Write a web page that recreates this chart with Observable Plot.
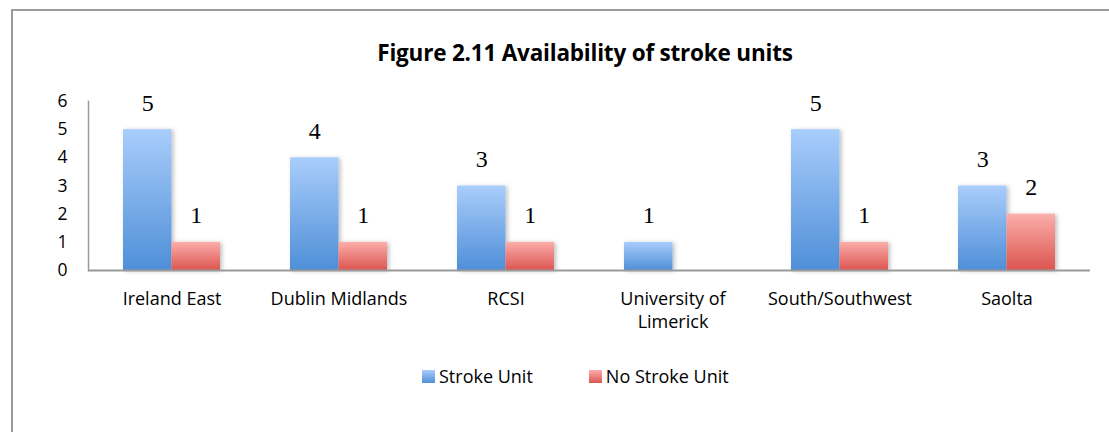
<!DOCTYPE html>
<html>
<head>
<meta charset="utf-8">
<script src="https://cdn.jsdelivr.net/npm/d3@7"></script>
<script src="https://cdn.jsdelivr.net/npm/@observablehq/plot@0.6"></script>
<style>
  html, body { margin: 0; padding: 0; background: #fff; overflow: hidden; width: 1109px; height: 432px; }
  #frame { position: absolute; left: 11px; top: 9px; width: 1200px; height: 600px; border: 2px solid #9a9a9a; box-sizing: border-box; }
  #title { position: absolute; left: 0; width: 1170px; top: 37px; text-align: center; font: bold 22.5px "Open Sans", Lato, sans-serif; letter-spacing: -0.2px; color: #000; }
  #chart { position: absolute; left: 0; top: 80px; }
  #legend { position: absolute; left: 422px; top: 364px; display: flex; align-items: center; font: 18px "Open Sans", Lato, sans-serif; color: #000; }
  #legend .sw { width: 13px; height: 13px; margin-right: 4px; }
  #legend .item { display: flex; align-items: center; margin-right: 56px; }
</style>
</head>
<body>
<div id="frame"></div>
<div id="title">Figure 2.11 Availability of stroke units</div>
<div id="chart"></div>
<div id="legend"></div>
<script>
const categories = ["Ireland East", "Dublin Midlands", "RCSI", "University of\nLimerick", "South/Southwest", "Saolta"];
const strokeUnit = [5, 4, 3, 1, 5, 3];
const noStrokeUnit = [1, 1, 1, null, 1, 2];
const seriesNames = ["Stroke Unit", "No Stroke Unit"];
const yTicks = [0, 1, 2, 3, 4, 5, 6];

const blueData = categories.map((c, i) => ({category: c, value: strokeUnit[i]}));
const redData = categories.map((c, i) => ({category: c, value: noStrokeUnit[i]})).filter(d => d.value != null);

const BAND = 167, OUT = 35, BW = 48.5;
const font = "'Open Sans', Lato, sans-serif";
const serif = "'Liberation Serif', 'DejaVu Serif', serif";

const plot = Plot.plot({
  width: 1109,
  height: 270,
  marginLeft: 88,
  marginRight: 19,
  marginTop: 21,
  marginBottom: 80,
  style: {fontFamily: font, fontSize: "16px", color: "#000", background: "transparent", overflow: "visible"},
  x: {domain: categories, padding: 0, axis: null},
  y: {domain: [0, 6], axis: null},
  marks: [
    Plot.barY(blueData, {x: "category", y: "value", fill: "url(#gBlue)", insetLeft: OUT, insetRight: BAND - OUT - BW, filter: d => d.value > 0}),
    Plot.barY(redData, {x: "category", y: "value", fill: "url(#gRed)", insetLeft: OUT + BW, insetRight: OUT}),
    Plot.text(blueData, {x: "category", y: "value", text: d => String(d.value), dx: -(BW / 2), dy: -19, lineAnchor: "bottom", fontFamily: serif, fontSize: 24, fill: "#000"}),
    Plot.text(redData, {x: "category", y: "value", text: d => String(d.value), dx: BW / 2, dy: -19, lineAnchor: "bottom", fontFamily: serif, fontSize: 24, fill: "#000"}),
    Plot.ruleY([0], {stroke: "#9a9a9a", strokeWidth: 2}),
    Plot.frame({anchor: "left", stroke: "#9a9a9a", strokeWidth: 1.5}),
    Plot.axisY(yTicks, {tickSize: 0, tickPadding: 21, fontSize: 17.5, fontFamily: font, fill: "#000", label: null}),
    Plot.axisX({tickSize: 0, tickPadding: 19, fontSize: 18, fontFamily: font, lineHeight: 1.25, fill: "#000", label: null})
  ]
});

const svg = d3.select(plot);
const defs = svg.insert("defs", ":first-child");
function grad(id, top, bottom) {
  const g = defs.append("linearGradient").attr("id", id).attr("x1", 0).attr("y1", 0).attr("x2", 0).attr("y2", 1);
  g.append("stop").attr("offset", "0%").attr("stop-color", top);
  g.append("stop").attr("offset", "100%").attr("stop-color", bottom);
}
grad("gBlue", "#a9cdfb", "#4f8fd8");
grad("gRed", "#fbaeab", "#dc5550");
const f = defs.append("filter").attr("id", "shadow").attr("x", "-20%").attr("y", "-20%").attr("width", "150%").attr("height", "150%");
f.append("feDropShadow").attr("dx", 2).attr("dy", 1).attr("stdDeviation", 2).attr("flood-color", "#000").attr("flood-opacity", 0.25);
svg.selectAll("g[aria-label='bar']").attr("filter", "url(#shadow)");

document.getElementById("chart").appendChild(plot);

const legend = document.getElementById("legend");
const swatches = ["linear-gradient(#a9cdfb, #4f8fd8)", "linear-gradient(#fbaeab, #dc5550)"];
seriesNames.forEach((name, i) => {
  const item = document.createElement("div");
  item.className = "item";
  const sw = document.createElement("div");
  sw.className = "sw";
  sw.style.background = swatches[i];
  const t = document.createElement("span");
  t.textContent = name;
  item.appendChild(sw);
  item.appendChild(t);
  legend.appendChild(item);
});
</script>
</body>
</html>
